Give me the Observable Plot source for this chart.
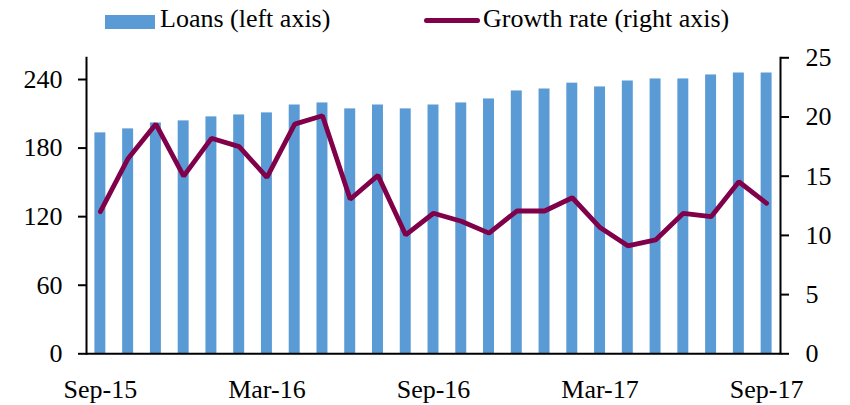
<!DOCTYPE html>
<html>
<head>
<meta charset="utf-8">
<script src="https://cdn.jsdelivr.net/npm/d3@7"></script>
<script src="https://cdn.jsdelivr.net/npm/@observablehq/plot@0.6"></script>
<style>
  body { margin: 0; background: #fff; font-family: "Liberation Serif", "Times New Roman", serif; }
  #wrap { position: relative; width: 850px; height: 405px; }
  #legend { position: absolute; left: 0; top: 0; width: 850px; height: 45px; font-size: 26px; color: #000; z-index: 2; }
  #chart { position: absolute; left: 0; top: 0; }
  .sw { position: absolute; }
  .lt { position: absolute; top: 4px; line-height: 30px; white-space: nowrap; }
</style>
</head>
<body>
<div id="wrap">
  <div id="chart"></div>
  <div id="legend">
    <div class="sw" style="left:105px; top:15px; width:50px; height:14px; background:#5B9BD5;"></div>
    <div class="lt" style="left:160px;">Loans (left axis)</div>
    <div class="sw" style="left:424px; top:18px; width:56px; height:5px; border-radius:3px; background:#800049;"></div>
    <div class="lt" style="left:483px;">Growth rate (right axis)</div>
  </div>
</div>
<script>
const months = ["Sep-15","Oct-15","Nov-15","Dec-15","Jan-16","Feb-16","Mar-16","Apr-16","May-16","Jun-16","Jul-16","Aug-16","Sep-16","Oct-16","Nov-16","Dec-16","Jan-17","Feb-17","Mar-17","Apr-17","May-17","Jun-17","Jul-17","Aug-17","Sep-17"];
const loans = [193.3, 196.8, 202, 203.8, 207.3, 209, 210.8, 217.7, 219.5, 214.3, 217.7, 214.3, 217.7, 219.5, 223, 230, 231.7, 236.8, 233.5, 238.7, 240.5, 240.5, 244, 245.7, 245.7];
const growth = [12.0, 16.5, 19.4, 15.0, 18.2, 17.5, 14.9, 19.4, 20.1, 13.05, 15.07, 10.04, 11.87, 11.2, 10.19, 12.06, 12.06, 13.18, 10.66, 9.12, 9.62, 11.87, 11.58, 14.53, 12.71];
const xTickLabels = ["Sep-15","Mar-16","Sep-16","Mar-17","Sep-17"];
const leftTicks = [0, 60, 120, 180, 240];
const rightTicks = [0, 5, 10, 15, 20, 25];
const leftMax = 259;
const rightMax = 25;

const k = leftMax / rightMax;
const data = months.map((m, i) => ({month: m, loans: loans[i], rate: growth[i]}));

const chart = Plot.plot({
  width: 850,
  height: 405,
  marginTop: 57.3,
  marginBottom: 51.7,
  marginLeft: 86,
  marginRight: 70,
  style: {fontFamily: "'Liberation Serif', 'Times New Roman', serif", fontSize: "26px", color: "#000", background: "#fff"},
  x: {domain: months, type: "band", padding: 0, round: false},
  y: {domain: [0, leftMax]},
  marks: [
    Plot.barY(data, {x: "month", y: "loans", fill: "#5B9BD5", insetLeft: 8.4, insetRight: 8.4}),
    Plot.lineY(data, {x: "month", y: d => d.rate * k, stroke: "#800049", strokeWidth: 4.8, strokeLinejoin: "miter", strokeLinecap: "round"}),
    Plot.axisY(leftTicks, {anchor: "left", tickSize: 8, tickPadding: 16, strokeWidth: 2, label: null}),
    Plot.axisY(rightTicks.map(v => v * k), {anchor: "right", tickSize: 8, tickPadding: 17, strokeWidth: 2, tickFormat: d => Math.round(d / k), label: null}),
    Plot.axisX(xTickLabels, {anchor: "bottom", tickSize: 0, tickPadding: 26, label: null}),
    Plot.frame({anchor: "left", strokeWidth: 2}),
    Plot.frame({anchor: "right", strokeWidth: 2}),
    Plot.ruleY([0], {strokeWidth: 2})
  ]
});
document.getElementById("chart").appendChild(chart);
</script>
</body>
</html>
